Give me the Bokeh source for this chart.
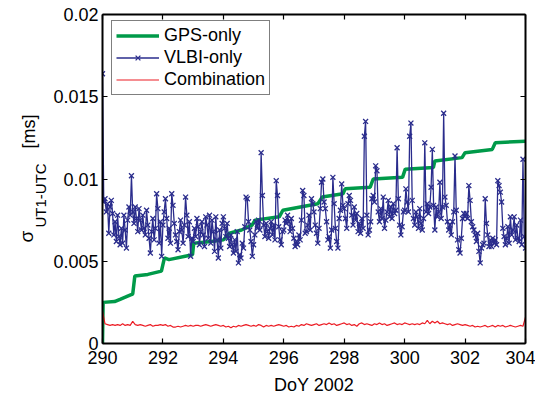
import numpy as np
from bokeh.plotting import figure
from bokeh.layouts import row
from bokeh.models import (Range1d, LinearAxis, FixedTicker, Label, Legend, LegendItem,
                          CustomLabelingPolicy)
from bokeh.embed import file_html
from bokeh.resources import INLINE

# ---------------- data (sigma values in microseconds = 1e-3 ms) ----------------
x_ticks = [290, 292, 294, 296, 298, 300, 302, 304]
y_ticks = [0, 0.005, 0.01, 0.015, 0.02]
y_tick_labels = ["0", "0.005", "0.01", "0.015", "0.02"]

# GPS-only: breakpoints (DoY, sigma [us])
gps_doy = [290.0, 290.02, 290.4, 290.6, 290.93, 291.0, 291.07, 291.5, 291.95, 292.05,
           292.2, 292.98, 293.02, 293.6, 294.0, 294.2, 294.6, 294.95, 295.05, 295.85,
           295.97, 297.13, 297.27, 297.96, 298.03, 298.86, 298.96, 299.93, 300.02, 300.95,
           301.0, 301.9, 302.0, 302.9, 303.0, 304.0]
gps_us = [0.0, 2.5, 2.55, 2.7, 2.95, 3.0, 4.1, 4.2, 4.4, 5.2,
          5.1, 5.4, 6.1, 6.2, 6.3, 6.7, 6.9, 7.2, 7.5, 7.7,
          8.1, 8.5, 8.9, 9.1, 9.4, 9.5, 10.0, 10.1, 10.6, 10.7,
          11.1, 11.3, 11.6, 11.8, 12.2, 12.3]

# VLBI-only: hourly values from DoY 290.0 to 304.0
vlbi_us = [
    16.4, 8.6, 8.8, 8.0, 8.5, 6.7, 8.3, 8.7, 7.9, 6.6, 7.4, 6.2, 7.8, 6.5, 6.0, 7.0, 6.1, 7.8, 6.9, 5.8, 7.5, 8.3, 7.8, 10.2,
    8.0, 7.3, 8.3, 7.6, 6.8, 8.2, 7.5, 6.9, 7.8, 7.0, 6.6, 8.1, 7.2, 6.4, 5.5, 6.8, 7.6, 6.3, 7.0, 9.1, 8.2, 6.1, 7.4, 5.3,
    7.2, 8.0, 8.8, 7.6, 6.4, 7.0, 6.1, 9.1, 8.4, 7.3, 6.6, 6.2, 5.7, 6.8, 7.5, 6.9, 6.1, 7.2, 8.9, 7.8, 6.5, 7.4, 5.3, 6.4,
    6.2, 7.0, 6.5, 7.6, 7.1, 6.0, 6.8, 7.4, 6.6, 5.9, 7.7, 7.2, 6.4, 7.8, 6.1, 7.5, 6.8, 5.6, 7.7, 6.3, 5.2, 6.9, 5.8, 7.3,
    7.7, 7.0, 6.5, 7.3, 6.4, 5.9, 6.6, 6.0, 5.5, 6.3, 5.6, 6.8, 4.9, 5.4, 5.2, 6.1, 5.8, 7.1, 8.9, 8.8, 7.4, 6.9, 6.2, 5.3,
    6.0, 6.6, 7.4, 7.0, 7.5, 6.9, 11.6, 9.0, 7.2, 6.5, 7.3, 6.8, 6.4, 7.0, 7.4, 6.6, 7.2, 6.3, 9.9, 9.0, 7.1, 6.3, 6.0, 6.8,
    6.9, 7.5, 7.3, 7.8, 7.4, 6.8, 7.6, 7.0, 6.4, 5.9, 6.2, 6.0, 6.6, 6.3, 7.5, 9.3, 9.0, 6.7, 6.8, 7.2, 7.8, 6.9, 8.8, 8.5,
    8.0, 7.2, 6.7, 6.1, 7.0, 8.2, 9.8, 10.0, 8.6, 8.2, 7.4, 6.3, 6.5, 5.8, 6.9, 10.1, 8.5, 7.0, 6.2, 5.8, 7.6, 8.1, 9.7, 8.4,
    8.2, 7.6, 7.0, 8.5, 9.0, 8.7, 7.8, 7.2, 8.3, 7.5, 7.9, 6.8, 7.3, 6.7, 7.6, 7.0, 12.6, 13.5, 7.8, 6.6, 6.9, 7.4, 8.8, 9.0,
    8.6, 10.8, 10.5, 8.0, 7.4, 8.2, 7.6, 8.9, 7.0, 7.5, 8.0, 8.7, 7.7, 8.3, 7.6, 8.5, 7.9, 8.1, 11.9, 8.8, 7.2, 6.6, 7.1, 8.0,
    8.1, 9.4, 8.6, 8.0, 12.6, 13.4, 8.7, 7.6, 7.2, 8.0, 7.7, 7.0, 8.2, 7.3, 6.9, 7.6, 12.2, 8.0, 8.5, 7.9, 8.3, 9.5, 11.8, 8.4,
    6.9, 8.3, 7.7, 8.0, 9.8, 7.6, 8.3, 14.0, 8.9, 8.4, 7.4, 6.9, 7.2, 6.6, 7.4, 8.0, 11.4, 8.1, 6.3, 5.7, 5.5, 6.4, 7.6, 7.9,
    7.7, 7.9, 7.6, 9.6, 8.7, 7.4, 7.1, 6.9, 6.6, 6.2, 6.7, 5.6, 4.9, 5.8, 6.0, 6.1, 8.8, 7.3, 6.6, 5.9, 6.3, 5.9, 6.4, 6.1,
    6.3, 6.0, 9.9, 9.6, 9.2, 8.6, 7.0, 6.5, 6.0, 6.4, 7.1, 6.1, 7.7, 6.6, 6.9, 7.7, 6.3, 7.2, 6.4, 6.2, 7.5, 6.0, 11.2, 6.5,
    5.8,
]

# Combination: 2-hourly values from DoY 290.0 to 304.0
comb_us = [
    1.95, 1.2, 1.15, 1.1, 1.15, 1.1, 1.15, 1.1, 1.2, 1.1, 1.15, 1.1,
    1.35, 1.15, 1.1, 1.15, 1.1, 1.05, 1.1, 1.15, 1.05, 1.1, 1.1, 1.15,
    1.1, 1.15, 1.05, 1.1, 1.0, 1.0, 1.05, 1.0, 1.05, 1.1, 1.05, 1.1,
    1.05, 1.1, 1.1, 1.05, 1.1, 1.15, 1.1, 1.05, 1.1, 1.15, 1.1, 1.05,
    1.1, 1.0, 1.05, 0.95, 1.05, 1.0, 1.1, 1.05, 1.1, 1.15, 1.1, 1.05,
    1.1, 1.05, 1.15, 1.1, 1.0, 1.1, 1.05, 1.1, 1.05, 1.1, 1.15, 1.1,
    1.05, 1.1, 1.0, 1.05, 1.0, 1.1, 1.05, 1.15, 1.1, 1.2, 1.15, 1.1,
    1.15, 1.2, 1.1, 1.15, 1.2, 1.15, 1.25, 1.15, 1.2, 1.1, 1.15, 1.2,
    1.25, 1.15, 1.2, 1.1, 1.15, 1.05, 1.2, 1.25, 1.15, 1.2, 1.15, 1.1,
    1.2, 1.15, 1.25, 1.15, 1.2, 1.1, 1.15, 1.2, 1.25, 1.15, 1.2, 1.15,
    1.25, 1.2, 1.15, 1.2, 1.15, 1.2, 1.15, 1.25, 1.2, 1.4, 1.2, 1.35,
    1.25, 1.35, 1.2, 1.25, 1.2, 1.15, 1.2, 1.1, 1.15, 1.2, 1.15, 1.1,
    1.15, 1.1, 1.05, 1.1, 1.0, 1.05, 1.0, 1.05, 1.1, 1.0, 1.05, 1.1,
    1.0, 1.1, 1.05, 1.1, 1.0, 1.05, 1.1, 1.05, 1.0, 1.05, 1.1, 1.05,
    1.6,
]

# ---------------- derived series ----------------
vlbi_doy = 290 + np.arange(len(vlbi_us)) / 24.0
comb_doy = 290 + np.arange(len(comb_us)) / 12.0
gps_ms = np.array(gps_us) / 1000.0
vlbi_ms = np.array(vlbi_us) / 1000.0
comb_ms = np.array(comb_us) / 1000.0

FONT = "Liberation Sans"
GREEN = "#009a49"
BLUE = "#2a2c8c"
RED = "#ec1c24"
H = 399
LW = 50            # width of the y-label strip
FRAME_TOP = 14     # page px
FRAME_BOTTOM = 343 # page px

p = figure(width=485, height=H, output_backend="svg", toolbar_location=None,
           x_range=Range1d(290, 304), y_range=Range1d(0, 0.02),
           min_border_left=101 - LW, min_border_right=10,
           min_border_top=FRAME_TOP, min_border_bottom=H - FRAME_BOTTOM)
p.xgrid.visible = False
p.ygrid.visible = False
p.outline_line_color = None
p.background_fill_color = "white"
p.border_fill_color = "white"

r_gps = p.line(gps_doy, gps_ms, line_color=GREEN, line_width=3.5)
r_vl = p.line(vlbi_doy, vlbi_ms, line_color=BLUE, line_width=1.3)
r_vx = p.scatter(vlbi_doy, vlbi_ms, marker="x", size=7, line_color=BLUE, line_width=1.3)
r_cb = p.line(comb_doy, comb_ms, line_color=RED, line_width=1.2)

def style_axis(ax, show_labels):
    ax.axis_line_width = 2
    ax.axis_line_color = "black"
    ax.major_tick_in = 5
    ax.major_tick_out = 0
    ax.major_tick_line_width = 1.2
    ax.major_tick_line_color = "black"
    ax.minor_tick_line_color = None
    ax.major_label_text_font = FONT
    if show_labels:
        ax.major_label_text_font_size = "18px"
        ax.major_label_text_color = "black"
    else:
        ax.major_label_text_font_size = "0px"
        ax.major_label_standoff = 0
        ax.major_label_policy = CustomLabelingPolicy(code="return []")

xa = p.xaxis[0]
xa.ticker = FixedTicker(ticks=x_ticks)
style_axis(xa, True)
xa.major_label_text_line_height = 0.9
xa.major_label_standoff = 7
xa.axis_label = "DoY 2002"
xa.axis_label_text_font = FONT
xa.axis_label_text_font_size = "18px"
xa.axis_label_text_font_style = "normal"
xa.axis_label_text_color = "black"
xa.axis_label_text_line_height = 0.9
xa.axis_label_standoff = 8

ya = p.yaxis[0]
ya.ticker = FixedTicker(ticks=y_ticks)
ya.major_label_overrides = {t: s for t, s in zip(y_ticks, y_tick_labels)}
style_axis(ya, True)
ya.major_label_standoff = 4

top = LinearAxis(ticker=FixedTicker(ticks=x_ticks))
style_axis(top, False)
p.add_layout(top, "above")
right = LinearAxis(ticker=FixedTicker(ticks=y_ticks))
style_axis(right, False)
p.add_layout(right, "right")

legend = Legend(items=[
    LegendItem(label="GPS-only", renderers=[r_gps]),
    LegendItem(label="VLBI-only", renderers=[r_vl, r_vx]),
    LegendItem(label="Combination", renderers=[r_cb]),
], location=(9, 248))
legend.label_text_font = FONT
legend.label_text_font_size = "18px"
legend.label_text_color = "black"
legend.glyph_width = 43
legend.glyph_height = 17
legend.label_height = 17
legend.label_standoff = 5
legend.spacing = 1
legend.padding = 4
legend.margin = 0
legend.border_line_color = "black"
legend.border_line_width = 1.5
legend.background_fill_alpha = 1
p.add_layout(legend, "center")

# ---------------- y-axis label strip: sigma with subscript ----------------
# the row aligns this strip's frame with the main frame, so its y range is set
# so that a data y equals (H - page y)
q = figure(width=LW, height=H, output_backend="svg", toolbar_location=None,
           x_range=Range1d(0, LW), y_range=Range1d(H - FRAME_BOTTOM, H - FRAME_TOP),
           x_axis_location=None, y_axis_location=None,
           min_border=0, min_border_left=0, min_border_right=0,
           min_border_top=FRAME_TOP, min_border_bottom=H - FRAME_BOTTOM)
q.xgrid.visible = False
q.ygrid.visible = False
q.outline_line_color = None
q.background_fill_color = "white"
q.border_fill_color = "white"
ang = np.pi / 2
q.add_layout(Label(x=26, y=H - 242, text="σ", angle=ang,
                   text_font=FONT, text_font_size="19px", text_align="left",
                   text_baseline="alphabetic", text_color="black"))
q.add_layout(Label(x=40, y=H - 227, text="UT1-UTC", angle=ang,
                   text_font=FONT, text_font_size="15px", text_align="left",
                   text_baseline="alphabetic", text_color="black"))
q.add_layout(Label(x=28, y=H - 148, text="[ms]", angle=ang,
                   text_font=FONT, text_font_size="18px", text_align="left",
                   text_baseline="alphabetic", text_color="black"))

layout = row(q, p, spacing=0)
open("out.html", "w").write(file_html(layout, INLINE))
